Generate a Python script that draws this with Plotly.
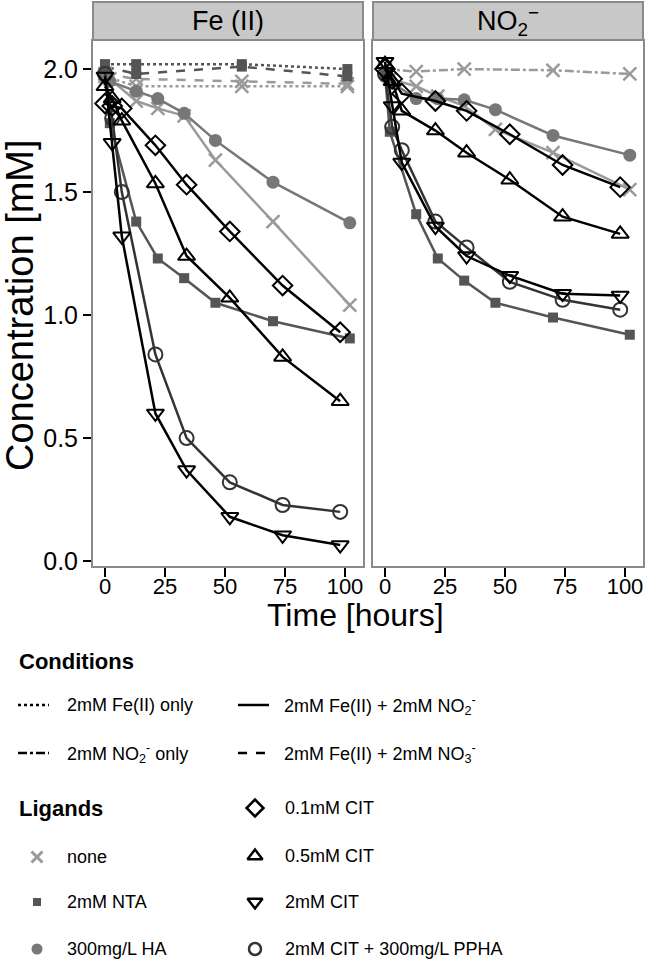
import plotly.graph_objects as go

# ---------------- data ----------------
t_cit = [0, 3, 7, 21, 34, 52, 74, 98]          # citrate experiments (hours)
t_lig = [0, 2, 13, 22, 33, 46, 70, 102]        # none / NTA / HA experiments
t_ctrl = [0, 13, 57, 101]                      # single-species controls
t_no2only = [0, 13, 33, 70, 102]

# Fe(II) panel, 2mM Fe(II) + 2mM NO2-
fe_none = [1.98, 1.96, 1.87, 1.84, 1.81, 1.63, 1.38, 1.04]
fe_nta = [2.00, 1.78, 1.38, 1.23, 1.15, 1.05, 0.975, 0.905]
fe_ha = [1.98, 1.95, 1.91, 1.88, 1.82, 1.71, 1.54, 1.375]
fe_cit01 = [1.86, 1.85, 1.84, 1.69, 1.53, 1.34, 1.12, 0.93]
fe_cit05 = [1.93, 1.88, 1.79, 1.535, 1.24, 1.07, 0.83, 0.65]
fe_cit2 = [1.97, 1.70, 1.32, 0.60, 0.37, 0.18, 0.105, 0.065]
fe_citpp = [1.98, 1.80, 1.50, 0.84, 0.50, 0.32, 0.228, 0.20]
# Fe(II) panel controls
fe_only_none = [1.97, 1.93, 1.93, 1.93]
fe_only_nta = [2.02, 2.02, 2.02, 2.00]
fe_no3_none = [1.98, 1.96, 1.95, 1.94]
fe_no3_nta = [2.01, 1.98, 2.01, 1.97]

# NO2- panel, 2mM Fe(II) + 2mM NO2-
no2_none = [2.00, 1.96, 1.93, 1.89, 1.85, 1.755, 1.66, 1.51]
no2_nta = [1.98, 1.745, 1.41, 1.23, 1.14, 1.05, 0.99, 0.92]
no2_ha = [1.97, 1.95, 1.88, 1.88, 1.875, 1.835, 1.73, 1.65]
no2_cit01 = [2.00, 1.96, 1.90, 1.87, 1.83, 1.735, 1.61, 1.52]
no2_cit05 = [2.02, 1.95, 1.83, 1.75, 1.66, 1.55, 1.40, 1.33]
no2_cit2 = [2.03, 1.85, 1.62, 1.36, 1.24, 1.16, 1.087, 1.08]
no2_citpp = [1.98, 1.765, 1.67, 1.38, 1.275, 1.135, 1.062, 1.022]
# NO2- panel control
no2_only_none = [2.00, 1.99, 2.00, 1.995, 1.98]

x_ticks = [0, 25, 50, 75, 100]
y_ticks = [0.0, 0.5, 1.0, 1.5, 2.0]

# ---------------- styles ----------------
W, H = 648, 962
FONT = "Liberation Sans, Arial, Helvetica, sans-serif"
C_NONE, C_NTA, C_HA, C_CIT, C_PP = "#9a9a9a", "#555555", "#777777", "#000000", "#333333"

STY = {
    "none": dict(symbol="x-thin-open", size=13, color=C_NONE, lw=2.5),
    "nta": dict(symbol="square", size=10, color=C_NTA, lw=0),
    "ha": dict(symbol="circle", size=13, color=C_HA, lw=0),
    "cit01": dict(symbol="diamond-open", size=15, color=C_CIT, lw=2),
    "cit05": dict(symbol="triangle-up-open", size=15, color=C_CIT, lw=2),
    "cit2": dict(symbol="triangle-down-open", size=15, color=C_CIT, lw=2),
    "citpp": dict(symbol="circle-open", size=14, color=C_PP, lw=2),
}

fig = go.Figure()


def add(x, y, lig, dash, xa, ya):
    s = STY[lig]
    fig.add_trace(go.Scatter(
        x=x, y=y, mode="lines+markers", xaxis=xa, yaxis=ya,
        line=dict(color=s["color"], width=2.5, dash=dash),
        marker=dict(symbol=s["symbol"], size=s["size"], color=s["color"],
                    line=dict(color=s["color"], width=s["lw"])),
        showlegend=False, hoverinfo="skip", cliponaxis=False))


# Fe(II) panel
add(t_ctrl, fe_only_none, "none", "dot", "x", "y")
add(t_ctrl, fe_no3_none, "none", "dash", "x", "y")
add(t_ctrl, fe_only_nta, "nta", "dot", "x", "y")
add(t_ctrl, fe_no3_nta, "nta", "dash", "x", "y")
add(t_lig, fe_none, "none", "solid", "x", "y")
add(t_lig, fe_ha, "ha", "solid", "x", "y")
add(t_lig, fe_nta, "nta", "solid", "x", "y")
add(t_cit, fe_citpp, "citpp", "solid", "x", "y")
add(t_cit, fe_cit2, "cit2", "solid", "x", "y")
add(t_cit, fe_cit05, "cit05", "solid", "x", "y")
add(t_cit, fe_cit01, "cit01", "solid", "x", "y")

# NO2- panel
add(t_no2only, no2_only_none, "none", "dashdot", "x2", "y2")
add(t_lig, no2_none, "none", "solid", "x2", "y2")
add(t_lig, no2_ha, "ha", "solid", "x2", "y2")
add(t_lig, no2_nta, "nta", "solid", "x2", "y2")
add(t_cit, no2_citpp, "citpp", "solid", "x2", "y2")
add(t_cit, no2_cit2, "cit2", "solid", "x2", "y2")
add(t_cit, no2_cit05, "cit05", "solid", "x2", "y2")
add(t_cit, no2_cit01, "cit01", "solid", "x2", "y2")

# ---------------- layout ----------------
def px_x(p):
    return p / W


def px_y(p):
    return 1 - p / H


L1, R1, L2, R2 = 93, 363, 373, 643
TOP, BOT = 41, 566
STRIP_TOP = 2
TICKFONT = dict(size=22, color="black", family=FONT)

xcommon = dict(range=[-5, 107.5], tickvals=x_ticks, ticks="outside", ticklen=9, tickwidth=2.5,
               tickcolor="black", showline=True, linecolor="#8a8a8a", linewidth=2, mirror=True,
               showgrid=False, zeroline=False, tickfont=TICKFONT, automargin=False,
               ticklabelstandoff=-9)
ycommon = dict(range=[-0.02, 2.114], tickvals=y_ticks, showline=True, linecolor="#8a8a8a",
               linewidth=2, mirror=True, showgrid=False, zeroline=False, automargin=False,
               domain=[px_y(BOT), px_y(TOP)])

fig.update_layout(
    width=W, height=H, margin=dict(l=0, r=0, t=0, b=0, autoexpand=False),
    paper_bgcolor="white", plot_bgcolor="rgba(0,0,0,0)", showlegend=False,
    font=dict(family=FONT, color="black"),
    xaxis=dict(xcommon, domain=[px_x(L1), px_x(R1)], anchor="y"),
    xaxis2=dict(xcommon, domain=[px_x(L2), px_x(R2)], anchor="y2"),
    yaxis=dict(ycommon, anchor="x", ticks="outside", ticklen=8, tickwidth=2.5, tickcolor="black",
               tickformat=".1f", tickfont=dict(size=25, color="black", family=FONT)),
    yaxis2=dict(ycommon, anchor="x2", showticklabels=False, ticks=""),
    xaxis3=dict(domain=[0, 1], range=[0, W], visible=False, anchor="y3", fixedrange=True),
    yaxis3=dict(domain=[0, 1], range=[H, 0], visible=False, anchor="x3", fixedrange=True),
)

shapes = []
annotations = []
# facet strips
for (l, r, lab) in [(L1, R1, "Fe (II)"), (L2, R2, "NO<sub>2</sub><sup>−</sup>")]:
    shapes.append(dict(type="rect", xref="paper", yref="paper", x0=px_x(l), x1=px_x(r),
                       y0=px_y(TOP - 1), y1=px_y(STRIP_TOP), fillcolor="#c8c8c8",
                       line=dict(color="#8a8a8a", width=2), layer="below"))
    annotations.append(dict(text=lab, xref="paper", yref="paper", x=px_x((l + r) / 2),
                            y=px_y(21), showarrow=False, xanchor="center", yanchor="middle",
                            font=dict(size=27, color="black", family=FONT)))

# axis titles
annotations.append(dict(text="Concentration [mM]", xref="paper", yref="paper", x=px_x(20),
                        y=px_y(305), textangle=-90, showarrow=False,
                        xanchor="center", yanchor="middle",
                        font=dict(size=38, color="black", family=FONT)))
annotations.append(dict(text="Time [hours]", xref="paper", yref="paper", x=px_x(355),
                        y=px_y(615), showarrow=False, xanchor="center", yanchor="middle",
                        font=dict(size=32, color="black", family=FONT)))

# ---------------- legend (drawn) ----------------
LFS = 18
annotations.append(dict(text="<b>Conditions</b>", xref="paper", yref="paper", x=px_x(17),
                        y=px_y(661), showarrow=False, xanchor="left", yanchor="middle",
                        font=dict(size=22, color="black", family=FONT)))
annotations.append(dict(text="<b>Ligands</b>", xref="paper", yref="paper", x=px_x(17),
                        y=px_y(808), showarrow=False, xanchor="left", yanchor="middle",
                        font=dict(size=22, color="black", family=FONT)))

cond_items = [
    (18, 705, "dot", 65, "2mM Fe(II) only"),
    (18, 753, "dashdot", 65, "2mM NO<sub>2</sub><sup>-</sup> only"),
    (238, 705, "solid", 282, "2mM Fe(II) + 2mM NO<sub>2</sub><sup>-</sup>"),
    (238, 753, "dash", 282, "2mM Fe(II) + 2mM NO<sub>3</sub><sup>-</sup>"),
]
for (x0, yy, dash, tx, lab) in cond_items:
    shapes.append(dict(type="line", xref="x3", yref="y3", x0=x0, x1=x0 + 31, y0=yy, y1=yy,
                       line=dict(color="black", width=2.5, dash=dash)))
    annotations.append(dict(text=lab, xref="paper", yref="paper", x=px_x(tx), y=px_y(yy),
                            showarrow=False, xanchor="left", yanchor="middle",
                            font=dict(size=LFS, color="black", family=FONT)))

lig_items = [
    ("none", 37, 857, 65, "none"),
    ("nta", 37, 902, 65, "2mM NTA"),
    ("ha", 37, 949, 65, "300mg/L HA"),
    ("cit01", 255, 808, 283, "0.1mM CIT"),
    ("cit05", 255, 856, 283, "0.5mM CIT"),
    ("cit2", 255, 902, 283, "2mM CIT"),
    ("citpp", 255, 949, 283, "2mM CIT + 300mg/L PPHA"),
]
for (lig, mx, my, tx, lab) in lig_items:
    s = STY[lig]
    fig.add_trace(go.Scatter(
        x=[mx], y=[my], mode="markers", xaxis="x3", yaxis="y3",
        marker=dict(symbol=s["symbol"], size=s["size"] - 2, color=s["color"],
                    line=dict(color=s["color"], width=(s["lw"] + 0.5) if s["lw"] else 0)),
        showlegend=False, hoverinfo="skip", cliponaxis=False))
    annotations.append(dict(text=lab, xref="paper", yref="paper", x=px_x(tx), y=px_y(my),
                            showarrow=False, xanchor="left", yanchor="middle",
                            font=dict(size=LFS, color="black", family=FONT)))

fig.update_layout(shapes=shapes, annotations=annotations)
fig.write_html(
    "out.html",
    config={"displayModeBar": False, "staticPlot": True},
    post_script="document.body.style.margin='0';document.body.style.overflow='hidden';",
)
